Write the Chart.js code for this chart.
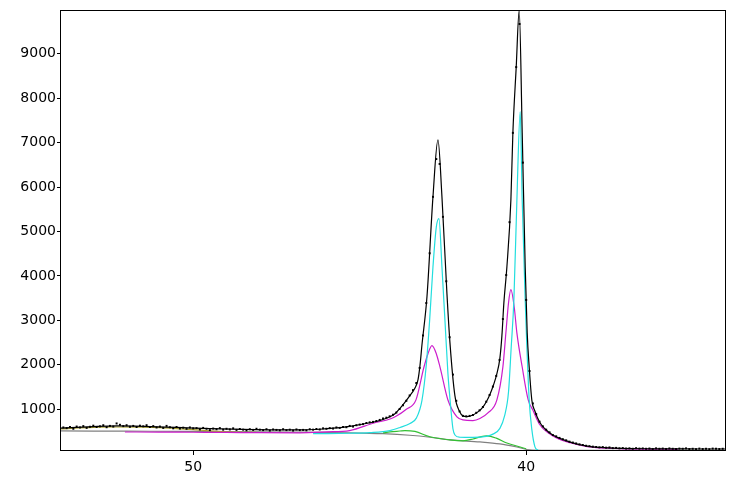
<!DOCTYPE html>
<html>
<head>
<meta charset="utf-8">
<script src="https://cdn.jsdelivr.net/npm/chart.js@4"></script>
<style>
html,body{margin:0;padding:0;background:#fff;}
#wrap{width:736px;height:479px;position:relative;}
</style>
</head>
<body>
<div id="wrap"><canvas id="c"></canvas></div>
<script>
// ---- tick labels ----
const xTicks = [40, 50];
const yTicks = [1000, 2000, 3000, 4000, 5000, 6000, 7000, 8000, 9000];

// ---- observed intensities on a regular 0.1 grid from 54.0 down to 34.0 ----
const obsStart = 54.0, obsStep = 0.1;
const obsY = [
560,590,575,600,560,610,590,620,580,605,
630,600,615,640,595,625,610,680,650,620,
640,605,625,600,630,615,640,600,620,590,
610,580,625,595,570,600,565,585,560,590,
570,575,545,580,560,530,565,550,575,540,
560,545,570,535,555,540,525,550,535,560,
540,530,550,520,545,535,525,550,530,540,
520,545,530,535,525,550,540,555,545,570,
560,575,565,590,580,600,595,625,610,640,
655,665,690,705,715,735,760,790,810,840,
875,925,1005,1090,1190,1310,1430,1590,1930,2660,
3390,4510,5780,6630,6520,5330,3880,2620,1780,1190,
950,850,840,850,870,920,975,1050,1170,1320,
1510,1750,2110,3030,4020,5210,7220,8700,9670,6550,
3460,1860,1130,890,720,615,540,480,420,390,
355,325,300,270,250,230,210,195,178,168,
158,150,142,148,135,140,125,130,120,126,
115,120,110,124,114,118,110,116,106,120,
110,115,106,118,110,105,114,110,119,104,
110,101,114,105,110,100,114,109,104,110,
105
];

// ---- calculated (fitted) profile ----
const calcX = [54.0,53.0,52.3,51.5,50.5,49.5,48.5,47.5,46.8,46.2,45.7,45.29,44.69,44.30,44.09,43.94,43.79,43.52,43.34,43.25,43.19,43.13,42.98,42.80,42.65,42.53,42.38,42.29,42.14,42.0,41.90,41.78,41.60,41.45,41.30,41.18,41.09,40.98,40.88,40.79,40.73,40.67,40.58,40.46,40.40,40.30,40.21,40.12,40.03,39.97,39.91,39.83,39.74,39.59,39.44,39.20,38.68,38.17,37.78,37.18,36.28,35.5,34.78,34.0];
const calcY = [575,610,625,615,590,565,545,535,535,550,580,615,695,770,830,900,1020,1280,1480,1660,1980,2450,3530,5780,7060,5780,3600,2500,1300,950,850,835,870,940,1050,1190,1330,1550,1800,2150,2650,3400,4200,5710,7220,8700,9980,7220,4200,2720,1950,1200,960,700,560,420,260,170,140,120,110,108,105,105];

// ---- narrow component (cyan) ----
const cyanX = [46.4,46.0,45.3,44.7,44.09,43.79,43.49,43.3,43.13,43.0,42.9,42.8,42.7,42.62,42.53,42.44,42.35,42.29,42.2,42.14,42.0,41.6,41.2,41.0,40.79,40.65,40.53,40.45,40.37,40.28,40.18,40.12,40.03,39.91,39.83,39.74,39.65,39.62];
const cyanY = [450,452,460,475,520,590,680,800,1200,2000,3000,4200,5100,5290,4200,3000,1800,1240,560,420,370,365,390,440,570,850,1400,2400,3460,5700,7700,5700,3460,1210,540,160,80,60];

// ---- broad component (magenta) ----
const magX = [52.05,51.0,50.0,49.0,48.0,46.8,46.0,45.3,44.57,44.09,43.91,43.60,43.31,43.07,42.95,42.83,42.70,42.59,42.35,42.08,41.90,41.60,41.39,41.15,40.88,40.70,40.61,40.53,40.46,40.36,40.28,40.12,39.94,39.80,39.59,39.20,38.68,38.17,37.18,36.2,35.44];
const magY = [488,486,482,478,472,470,490,520,690,780,840,1000,1210,1950,2250,2430,2250,1953,1209,830,759,745,790,917,1209,1953,2720,3400,3690,3300,2720,1950,1210,980,650,400,245,160,112,102,98];

// ---- small component (green) ----
const greenX = [44.30,44.09,43.79,43.64,43.34,42.89,42.29,41.90,41.60,41.35,41.18,40.9,40.58,40.18,40.0];
const greenY = [466,490,510,520,500,380,310,290,330,385,400,350,240,150,110];

// ---- background (gray) ----
const bgX = [54.0,52.0,50.0,47.0,45.29,44.30,43.5,42.89,42.29,41.39,40.79,40.28,39.89,39.5,37.0,34.0];
const bgY = [512,506,500,485,470,450,415,370,310,265,220,150,84,75,72,70];

// ---- left-edge component (olive) ----
const oliveX = [54.0,53.0,52.3,51.5,51.0,50.5,50.0,49.5,49.0,48.5,48.1];
const oliveY = [560,590,600,595,585,565,540,512,492,482,478];

const pts = (xs, ys) => xs.map((x, i) => ({x: x, y: ys[i]}));
const obsPts = obsY.map((y, i) => ({x: +(obsStart - i * obsStep).toFixed(2), y: y}));

const lineDs = (label, xs, ys, color, w) => ({
  label, data: pts(xs, ys), showLine: true, borderColor: color, borderWidth: w,
  pointRadius: 0, fill: false, cubicInterpolationMode: 'monotone'
});

const framePlugin = {
  id: 'frame',
  afterDraw(chart) {
    const a = chart.chartArea, ctx = chart.ctx;
    ctx.save();
    ctx.strokeStyle = '#000';
    ctx.lineWidth = 1;
    ctx.strokeRect(Math.round(a.left) + 0.5, Math.round(a.top) + 0.5,
                   Math.round(a.right - a.left) - 1, Math.round(a.bottom - a.top) - 1);
    ctx.restore();
  }
};

new Chart(document.getElementById('c'), {
  type: 'scatter',
  data: {
    datasets: [
      {label: 'obs', data: obsPts, pointStyle: 'rect', pointRadius: 1.4,
       backgroundColor: '#000', borderWidth: 0, showLine: false},
      lineDs('calc', calcX, calcY, '#000000', 1.2),
      lineDs('cyan', cyanX, cyanY, '#22dede', 1.2),
      lineDs('magenta', magX, magY, '#cc1ccc', 1.2),
      lineDs('green', greenX, greenY, '#33c033', 1.2),
      lineDs('olive', oliveX, oliveY, '#a8a030', 1.2),
      lineDs('bg', bgX, bgY, '#808080', 1.2)
    ]
  },
  options: {
    responsive: true,
    maintainAspectRatio: false,
    animation: false,
    events: [],
    layout: {padding: {top: 10, right: 10, left: 0, bottom: 0}},
    plugins: {legend: {display: false}, tooltip: {enabled: false}},
    scales: {
      x: {
        type: 'linear', reverse: true, min: 34, max: 54,
        afterBuildTicks: s => { s.ticks = xTicks.map(v => ({value: v})); },
        afterFit: s => { s.height = 28; },
        border: {display: false},
        grid: {drawOnChartArea: false, drawTicks: true, tickLength: 4, color: '#000', lineWidth: 1},
        ticks: {color: '#000', padding: 4, maxRotation: 0,
                callback: v => String(v),
                font: {family: 'DejaVu Sans', size: 14}}
      },
      y: {
        type: 'linear', min: 60, max: 9985,
        afterBuildTicks: s => { s.ticks = yTicks.map(v => ({value: v})); },
        afterFit: s => { s.width = 60; },
        border: {display: false},
        grid: {drawOnChartArea: false, drawTicks: true, tickLength: 3, color: '#000', lineWidth: 1},
        ticks: {color: '#000', padding: 1,
                callback: v => String(v),
                font: {family: 'DejaVu Sans', size: 14}}
      }
    }
  },
  plugins: [framePlugin]
});
</script>
</body>
</html>
